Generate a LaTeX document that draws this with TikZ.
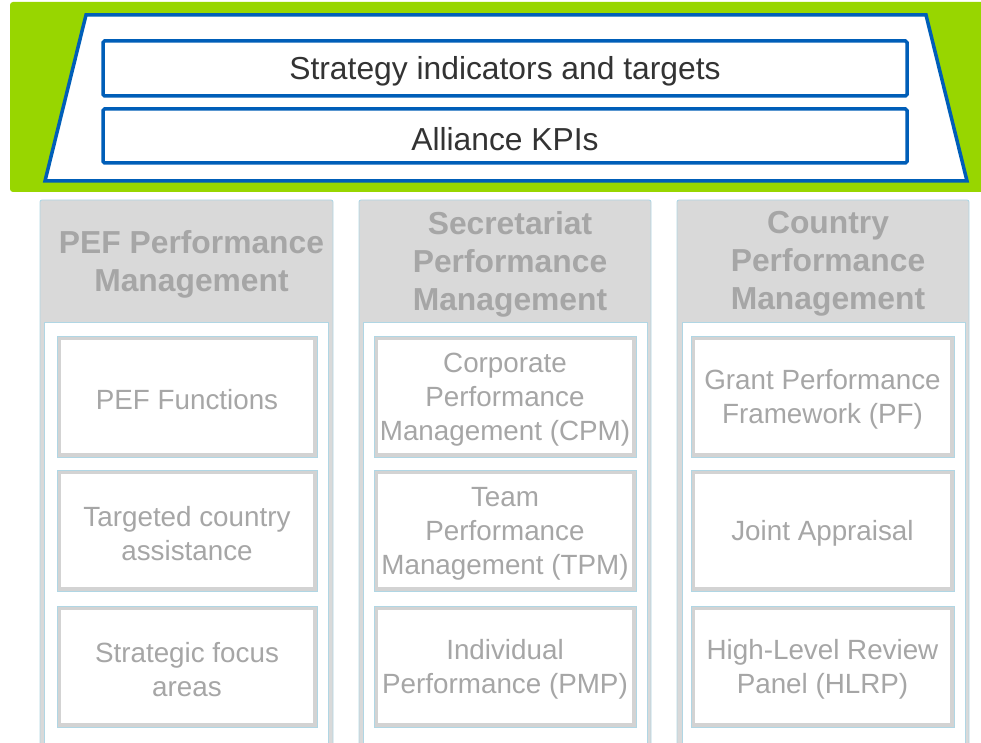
\documentclass[tikz,border=0pt]{standalone}
\usepackage{fontspec}
\setmainfont{Liberation Sans}
\definecolor{bandgreen}{RGB}{152,214,0}
\definecolor{kpiblue}{RGB}{0,94,184}
\definecolor{hdrgray}{RGB}{217,217,217}
\definecolor{txtgray}{RGB}{166,166,166}
\definecolor{edgeblue}{RGB}{176,214,228}
\definecolor{framegray}{RGB}{211,211,211}
\definecolor{darktext}{RGB}{51,51,51}
\tikzset{
  topbox/.style={draw=kpiblue, line width=3.5pt, fill=white, rounded corners=1.5pt,
    minimum width=804pt, inner sep=0pt},
  toptext/.style={text=darktext, inner sep=0pt, font=\fontsize{31.8}{38}\selectfont},
  panelbg/.style={fill=hdrgray, draw=edgeblue, line width=0.9pt, rounded corners=2pt},
  panelwhite/.style={fill=white, draw=edgeblue, line width=0.9pt},
  hdrtext/.style={text=txtgray, align=center, inner sep=0pt,
    font=\bfseries\fontsize{31.8}{38}\selectfont},
  itembox/.style={draw=edgeblue, line width=0.9pt, fill=white, inner sep=0pt,
    minimum height=121pt,
    path picture={\draw[framegray, line width=3.8pt]
      ([shift={(2.3pt,2.3pt)}]path picture bounding box.south west) rectangle
      ([shift={(-2.3pt,-2.3pt)}]path picture bounding box.north east);}},
  itemtext/.style={align=center, text=txtgray, inner sep=0pt,
    font=\fontsize{27.8}{34}\selectfont},
}
\begin{document}
\begin{tikzpicture}[x=1pt,y=-1pt]
\useasboundingbox (0,0) rectangle (981,743);
% green band and trapezoid
\fill[bandgreen, rounded corners=3pt] (10,2) rectangle (995,192);
\draw[kpiblue, line width=3.5pt, fill=white, line join=miter]
  (86,15) -- (926,15) -- (967,181) -- (45,181) -- cycle;
\node[topbox, minimum height=55pt] (strat) at (505,68.5) {};
\node[toptext] (strattxt) at ([yshift=-3pt]strat.center) {Strategy indicators and targets};
\node[topbox, minimum height=54pt] (kpi) at (505,136) {};
\node[toptext] (kpitxt) at ([yshift=-3pt]kpi.center) {Alliance KPIs};
% column panels
\draw[panelbg] (40,200) rectangle (333,770);
\draw[panelwhite] (44,322) rectangle (328,770);
\draw[panelbg] (359,200) rectangle (651,770);
\draw[panelwhite] (363,322) rectangle (647,770);
\draw[panelbg] (677,200) rectangle (969,770);
\draw[panelwhite] (682,322) rectangle (965,770);
% headers
\node[hdrtext] (h1) at (191.5,264) {PEF Performance\\Management};
\node[hdrtext] (h2) at (510,264) {Secretariat\\Performance\\Management};
\node[hdrtext] (h3) at (828,264) {Country\\Performance\\Management};
% column 1
\node[itembox, minimum width=260pt] (a1) at (187,396.5) {};
\node[itembox, minimum width=260pt] (a2) at (187,530.5) {};
\node[itembox, minimum width=260pt] (a3) at (187,666.5) {};
% column 2
\node[itembox, minimum width=262pt] (b1) at (505,396.5) {};
\node[itembox, minimum width=262pt] (b2) at (505,530.5) {};
\node[itembox, minimum width=262pt] (b3) at (505,666.5) {};
% column 3
\node[itembox, minimum width=263pt] (c1) at (822.5,396.5) {};
\node[itembox, minimum width=263pt] (c2) at (822.5,530.5) {};
\node[itembox, minimum width=263pt] (c3) at (822.5,666.5) {};
% box texts
\node[itemtext] (a1t) at ([yshift=-3pt]a1.center) {PEF Functions};
\node[itemtext] (a2t) at ([yshift=-3pt]a2.center) {Targeted country\\assistance};
\node[itemtext] (a3t) at ([yshift=-3pt]a3.center) {Strategic focus\\areas};
\node[itemtext] (b1t) at ([yshift=-3pt]b1.center) {Corporate\\Performance\\Management (CPM)};
\node[itemtext] (b2t) at ([yshift=-3pt]b2.center) {Team\\Performance\\Management (TPM)};
\node[itemtext] (b3t) at ([yshift=-3pt]b3.center) {Individual\\Performance (PMP)};
\node[itemtext] (c1t) at ([yshift=-3pt]c1.center) {Grant Performance\\Framework (PF)};
\node[itemtext] (c2t) at ([yshift=-3pt]c2.center) {Joint Appraisal};
\node[itemtext] (c3t) at ([yshift=-3pt]c3.center) {High-Level Review\\Panel (HLRP)};
\end{tikzpicture}
\end{document}
